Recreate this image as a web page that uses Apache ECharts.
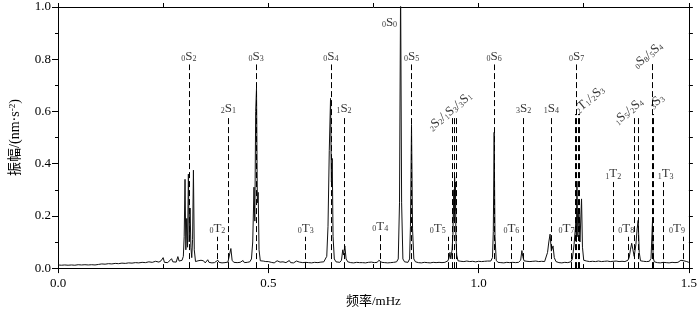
<!DOCTYPE html>
<html><head><meta charset="utf-8">
<script src="https://cdn.jsdelivr.net/npm/echarts@6/dist/echarts.min.js"></script>
<style>html,body{margin:0;padding:0;background:#fff}#c{width:700px;height:313px}</style>
</head><body><div id="c"></div>
<script>
// ---------------- data ----------------
const spectrum = [
[0.000,0.012],[0.004,0.014],[0.008,0.011],[0.012,0.013],[0.016,0.012],[0.020,0.014],[0.024,0.011],[0.028,0.015],[0.032,0.012],[0.036,0.013],
[0.040,0.011],[0.044,0.015],[0.048,0.013],[0.052,0.014],[0.056,0.012],[0.060,0.016],[0.064,0.013],[0.068,0.014],[0.072,0.012],[0.076,0.016],
[0.080,0.013],[0.084,0.015],[0.088,0.012],[0.092,0.016],[0.096,0.014],[0.100,0.013],[0.104,0.016],[0.108,0.013],[0.112,0.015],[0.116,0.014],
[0.120,0.017],[0.124,0.014],[0.128,0.016],[0.132,0.014],[0.136,0.018],[0.140,0.015],[0.144,0.017],[0.148,0.015],[0.152,0.019],[0.156,0.016],
[0.160,0.018],[0.164,0.015],[0.168,0.020],[0.172,0.017],[0.176,0.019],[0.180,0.016],[0.184,0.021],[0.188,0.018],[0.192,0.020],[0.196,0.017],
[0.200,0.022],[0.204,0.018],[0.208,0.021],[0.212,0.019],[0.216,0.024],[0.220,0.019],[0.224,0.022],[0.228,0.020],[0.232,0.026],[0.236,0.021],
[0.240,0.023],[0.245,0.028],[0.250,0.040],[0.253,0.022],[0.257,0.026],[0.261,0.021],[0.265,0.025],[0.270,0.036],[0.273,0.024],[0.277,0.028],
[0.281,0.023],[0.285,0.044],[0.288,0.027],[0.292,0.024],[0.295,0.030],[0.298,0.045],[0.300,0.12],[0.302,0.34],[0.304,0.07],
[0.306,0.19],[0.308,0.08],[0.310,0.36],[0.312,0.10],[0.314,0.23],[0.316,0.08],[0.318,0.04],[0.320,0.11],[0.322,0.375],[0.324,0.07],[0.327,0.025],
[0.330,0.022],[0.333,0.028],[0.336,0.021],[0.340,0.030],[0.343,0.024],[0.346,0.028],[0.350,0.020],[0.353,0.026],[0.356,0.032],[0.359,0.022],
[0.362,0.027],[0.366,0.020],[0.369,0.025],[0.372,0.021],[0.376,0.028],[0.380,0.030],[0.383,0.022],[0.387,0.026],[0.390,0.020],[0.394,0.025],
[0.397,0.021],[0.400,0.028],[0.404,0.023],[0.408,0.030],[0.411,0.075],[0.414,0.030],[0.418,0.022],
[0.422,0.028],[0.426,0.021],[0.430,0.027],[0.433,0.022],[0.436,0.026],[0.440,0.029],[0.443,0.021],[0.446,0.025],[0.450,0.022],[0.453,0.027],
[0.456,0.024],[0.460,0.035],[0.463,0.10],
[0.466,0.31],[0.468,0.18],[0.470,0.60],[0.472,0.69],[0.474,0.25],[0.476,0.29],[0.478,0.07],[0.481,0.028],
[0.485,0.022],[0.488,0.027],[0.491,0.021],[0.494,0.025],[0.497,0.020],[0.500,0.025],[0.504,0.030],[0.507,0.022],[0.511,0.026],[0.514,0.020],
[0.518,0.025],[0.521,0.028],[0.525,0.021],[0.528,0.023],[0.532,0.019],[0.535,0.024],[0.539,0.026],[0.542,0.021],[0.546,0.024],[0.550,0.029],
[0.553,0.021],[0.557,0.025],[0.560,0.020],[0.564,0.024],[0.567,0.027],[0.571,0.021],[0.574,0.023],[0.578,0.026],[0.582,0.021],[0.585,0.024],
[0.589,0.022],[0.592,0.028],[0.596,0.021],[0.600,0.024],[0.603,0.020],[0.607,0.025],[0.610,0.022],[0.614,0.027],[0.618,0.021],[0.621,0.026],
[0.625,0.023],[0.628,0.027],[0.632,0.024],[0.635,0.030],[0.639,0.045],[0.642,0.16],[0.645,0.45],[0.648,0.65],[0.650,0.33],[0.652,0.42],
[0.654,0.12],[0.657,0.035],[0.661,0.024],[0.665,0.028],[0.670,0.022],[0.674,0.030],[0.677,0.070],[0.679,0.050],[0.682,0.085],[0.685,0.035],
[0.689,0.024],[0.693,0.027],[0.696,0.021],[0.700,0.025],[0.703,0.020],[0.707,0.026],[0.710,0.022],[0.714,0.027],[0.717,0.021],[0.721,0.028],
[0.724,0.021],[0.728,0.024],[0.731,0.020],[0.735,0.025],[0.738,0.022],[0.742,0.026],[0.745,0.023],[0.749,0.027],[0.752,0.021],[0.756,0.025],
[0.759,0.022],[0.763,0.030],[0.766,0.024],[0.770,0.022],[0.773,0.026],[0.777,0.021],[0.780,0.025],[0.784,0.020],[0.787,0.024],[0.791,0.021],
[0.794,0.025],[0.798,0.022],[0.801,0.027],[0.805,0.024],[0.809,0.035],[0.812,0.25],[0.8146,1.08],[0.817,0.25],[0.820,0.035],[0.824,0.024],
[0.828,0.027],[0.832,0.022],[0.836,0.035],[0.838,0.16],[0.8405,0.55],[0.843,0.15],[0.846,0.035],[0.850,0.024],
[0.853,0.027],[0.857,0.021],[0.860,0.025],[0.864,0.020],[0.867,0.026],[0.871,0.022],[0.874,0.027],[0.878,0.021],[0.881,0.024],[0.885,0.020],
[0.888,0.026],[0.892,0.022],[0.895,0.025],[0.899,0.021],[0.902,0.027],[0.906,0.022],[0.909,0.025],[0.913,0.021],[0.916,0.026],[0.920,0.022],
[0.924,0.027],[0.927,0.028],[0.930,0.040],[0.932,0.060],[0.934,0.035],[0.937,0.070],[0.939,0.13],
[0.941,0.30],[0.942,0.18],[0.943,0.35],[0.944,0.22],[0.945,0.33],[0.946,0.12],[0.948,0.05],[0.951,0.028],
[0.955,0.022],[0.958,0.026],[0.962,0.021],[0.965,0.025],[0.969,0.020],[0.972,0.027],[0.976,0.022],[0.979,0.025],[0.983,0.021],[0.986,0.026],
[0.990,0.022],[0.993,0.024],[0.997,0.020],[1.000,0.026],[1.004,0.022],[1.007,0.025],[1.011,0.021],[1.014,0.026],[1.018,0.022],[1.021,0.027],
[1.025,0.022],[1.029,0.027],[1.033,0.040],[1.035,0.14],[1.037,0.52],[1.039,0.12],
[1.042,0.030],[1.046,0.022],[1.049,0.026],[1.053,0.021],[1.056,0.025],[1.060,0.020],[1.063,0.027],[1.067,0.022],[1.070,0.025],[1.074,0.021],
[1.077,0.026],[1.081,0.022],[1.084,0.024],[1.088,0.021],[1.091,0.026],[1.095,0.022],[1.100,0.030],[1.103,0.067],[1.105,0.045],[1.108,0.028],
[1.112,0.022],[1.115,0.026],[1.119,0.021],[1.122,0.025],[1.126,0.020],[1.129,0.026],[1.133,0.022],[1.136,0.027],[1.140,0.021],[1.143,0.025],
[1.147,0.022],[1.150,0.026],[1.154,0.021],[1.157,0.025],[1.160,0.030],[1.164,0.060],[1.167,0.10],[1.170,0.13],
[1.173,0.065],[1.177,0.085],[1.180,0.040],[1.184,0.025],[1.187,0.027],[1.191,0.021],[1.194,0.025],[1.198,0.020],[1.201,0.026],[1.205,0.022],
[1.208,0.027],[1.212,0.021],[1.215,0.026],[1.219,0.024],[1.223,0.035],[1.227,0.09],[1.2315,0.18],[1.2325,0.10],[1.2338,0.333],[1.236,0.12],
[1.2385,0.23],[1.241,0.10],[1.2448,0.265],[1.247,0.08],[1.250,0.030],[1.253,0.024],
[1.257,0.027],[1.260,0.021],[1.264,0.025],[1.267,0.020],[1.271,0.026],[1.274,0.022],[1.278,0.025],[1.281,0.021],[1.285,0.027],[1.288,0.022],
[1.292,0.025],[1.295,0.020],[1.299,0.026],[1.302,0.023],[1.306,0.027],[1.309,0.021],[1.313,0.025],[1.316,0.022],[1.320,0.026],[1.323,0.023],
[1.327,0.027],[1.330,0.021],[1.334,0.025],[1.337,0.022],[1.341,0.026],[1.344,0.021],[1.348,0.025],[1.351,0.023],
[1.355,0.030],[1.358,0.040],[1.361,0.070],[1.364,0.095],[1.367,0.070],[1.370,0.045],[1.374,0.090],[1.377,0.15],[1.3795,0.183],[1.382,0.06],
[1.385,0.028],[1.389,0.022],[1.392,0.026],[1.396,0.021],[1.399,0.025],[1.403,0.022],[1.406,0.026],[1.408,0.030],[1.410,0.037],[1.412,0.030],
[1.4135,0.18],[1.415,0.04],[1.418,0.024],[1.422,0.027],[1.425,0.021],[1.429,0.025],[1.432,0.020],[1.436,0.026],[1.439,0.022],[1.443,0.027],
[1.446,0.021],[1.450,0.025],[1.453,0.020],[1.457,0.026],[1.460,0.022],[1.464,0.025],[1.467,0.021],[1.471,0.026],[1.474,0.022],[1.478,0.028],
[1.481,0.030],[1.485,0.024],[1.488,0.028],[1.492,0.021],[1.495,0.025],[1.500,0.022]
];

// dashed mode markers: frequency (mHz) and top amplitude
const lineFreq = [0.311,0.405,0.379,0.471,0.589,0.649,0.680,0.766,0.841,0.929,0.938,0.942,0.946,1.037,1.078,1.107,1.173,1.221,1.233,1.230,1.236,1.239,1.320,1.356,1.370,1.379,1.413,1.416,1.440,1.486];
const lineTop  = [0.78, 0.58, 0.12, 0.78, 0.12, 0.78, 0.58, 0.13, 0.78, 0.12, 0.575,0.575,0.575,0.78, 0.12, 0.58, 0.58, 0.12, 0.78, 0.59, 0.59, 0.59, 0.33, 0.12, 0.585,0.585,0.79, 0.59, 0.33, 0.12];

// mode labels: [prefix, letter, suffix] groups joined by "/"
const labelModes = [
  [['0','S','2']], [['2','S','1']], [['0','T','2']], [['0','S','3']], [['0','T','3']], [['0','S','4']], [['1','S','2']],
  [['0','T','4']], [['0','S','0']], [['0','S','5']], [['0','T','5']], [['2','S','2'],['1','S','3'],['3','S','1']],
  [['0','S','6']], [['0','T','6']], [['3','S','2']], [['1','S','4']], [['0','T','7']], [['0','S','7']],
  [['2','T','1'],['2','S','3']], [['1','T','2']], [['0','T','8']], [['1','S','5'],['2','S','4']],
  [['0','S','8'],['5','S','4']], [['3','S','3']], [['1','T','3']], [['0','T','9']]
];
const labelFreq = [0.311,0.405,0.379,0.471,0.589,0.649,0.680,0.766,0.8146,0.841,0.929,0.942,1.037,1.078,1.107,1.173,1.221,1.233,1.236,1.320,1.356,1.374,1.413,1.416,1.440,1.486];
const labelTop  = [0.78, 0.58, 0.12, 0.78, 0.12, 0.78, 0.58, 0.13, 0.94, 0.78, 0.12, 0.575,0.78, 0.12, 0.58, 0.58, 0.12, 0.78, 0.59, 0.33, 0.12, 0.585,0.79, 0.59, 0.33, 0.12];

const xTickLabels = ['0.0','0.5','1.0','1.5'];

// ---------------- style ----------------
const SERIF = '"Liberation Serif","Times New Roman",serif';
const CJK = '"Liberation Serif","Noto Sans CJK SC",serif';
// per-label placement tweaks (pixels / degrees)
const labelPlacement = {
  8:  {position:'left', distance:3, offset:[0,0]},
  10: {offset:[-11,0]},
  11: {rotate:40, offset:[0,0]},
  16: {offset:[-5,0]},
  18: {rotate:40, align:'left', offset:[0,4]},
  20: {offset:[-2,0]},
  21: {rotate:40, offset:[-4,0]},
  22: {rotate:40, offset:[0,0]},
  23: {rotate:40, align:'left', offset:[2,0]},
  24: {offset:[2,0]},
  25: {offset:[-6,0]}
};

function modeText(groups){
  return groups.map(g => '{p|' + g[0] + '}{m|' + g[1] + '}{p|' + g[2] + '}').join('{m|/}');
}
const richStyle = {
  m: {fontFamily: SERIF, fontSize: 13, color: '#000'},
  p: {fontFamily: SERIF, fontSize: 8, color: '#000', verticalAlign: 'bottom', lineHeight: 13}
};

const labelData = labelModes.map((g, i) => {
  const pl = labelPlacement[i] || {};
  const lab = {
    show: true,
    formatter: modeText(g),
    rich: richStyle,
    position: pl.position || 'top',
    distance: pl.distance !== undefined ? pl.distance : 1,
    offset: pl.offset || [0,0]
  };
  if (pl.rotate) {
    lab.rotate = pl.rotate;
    lab.align = pl.align || 'center';
    lab.verticalAlign = 'bottom';
    lab.position = 'top';
  }
  return {value: [labelFreq[i], labelTop[i]], label: lab};
});

const markLines = lineFreq.map((f, i) => [{coord: [f, 0]}, {coord: [f, lineTop[i]]}]);

const chart = echarts.init(document.getElementById('c'), null, {renderer: 'canvas'});
const axisLineStyle = {color: '#000', width: 1};
chart.setOption({
  animation: false,
  backgroundColor: '#fff',
  grid: {left: 54, right: 9, top: 7, bottom: 34, containLabel: false},
  xAxis: [
    {type: 'value', min: 0, max: 1.5, interval: 0.5, position: 'bottom',
     axisLine: {show: true, onZero: false, lineStyle: axisLineStyle},
     axisTick: {show: true, inside: false, length: 5, lineStyle: axisLineStyle},
     axisLabel: {color: '#000', fontFamily: SERIF, fontSize: 13, margin: 9,
       formatter: v => xTickLabels[Math.round(v / 0.5)] || ''},
     splitLine: {show: false},
     name: '频率/mHz', nameLocation: 'middle', nameGap: 21,
     nameTextStyle: {color: '#000', fontFamily: CJK, fontSize: 13}},
    {type: 'value', min: 0, max: 1.5, interval: 0.25, position: 'bottom', gridIndex: 0,
     axisLine: {show: false, onZero: false},
     axisTick: {show: true, inside: true, length: 4, lineStyle: axisLineStyle},
     axisLabel: {show: false}, splitLine: {show: false}},
    {type: 'value', min: 0, max: 1.5, interval: 0.25, position: 'top', gridIndex: 0,
     axisLine: {show: true, onZero: false, lineStyle: axisLineStyle},
     axisTick: {show: true, inside: false, length: 4, lineStyle: axisLineStyle},
     axisLabel: {show: false}, splitLine: {show: false}}
  ],
  yAxis: [
    {type: 'value', min: 0, max: 1, interval: 0.2, position: 'left',
     axisLine: {show: true, onZero: false, lineStyle: axisLineStyle},
     axisTick: {show: true, inside: false, length: 6, lineStyle: axisLineStyle},
     minorTick: {show: true, splitNumber: 2, length: 3, lineStyle: axisLineStyle},
     axisLabel: {color: '#000', fontFamily: SERIF, fontSize: 13, margin: 7, formatter: v => v.toFixed(1)},
     splitLine: {show: false},
     name: '振幅/(nm·s{sup|-2})', nameLocation: 'middle', nameGap: 36, nameRotate: 90,
     nameTextStyle: {color: '#000', fontFamily: CJK, fontSize: 14,
       rich: {sup: {fontFamily: SERIF, fontSize: 9, color: '#000', verticalAlign: 'top', lineHeight: 14}}}},
    {type: 'value', min: 0, max: 1, interval: 0.1, position: 'right',
     axisLine: {show: true, onZero: false, lineStyle: axisLineStyle},
     axisTick: {show: true, inside: false, length: 4, lineStyle: axisLineStyle},
     axisLabel: {show: false}, splitLine: {show: false}}
  ],
  series: [
    {type: 'line', xAxisIndex: 0, yAxisIndex: 0, data: spectrum, showSymbol: false, symbol: 'none',
     clip: true, lineStyle: {color: '#111', width: 1}, z: 3,
     markLine: {silent: true, symbol: ['none','none'], animation: false,
       lineStyle: {type: [6,3], color: '#000', width: 1}, label: {show: false},
       emphasis: {disabled: true}, data: markLines}},
    {type: 'scatter', xAxisIndex: 0, yAxisIndex: 0, data: labelData, symbolSize: 1,
     itemStyle: {color: 'rgba(0,0,0,0)'}, silent: true, z: 5}
  ]
});
</script></body></html>
